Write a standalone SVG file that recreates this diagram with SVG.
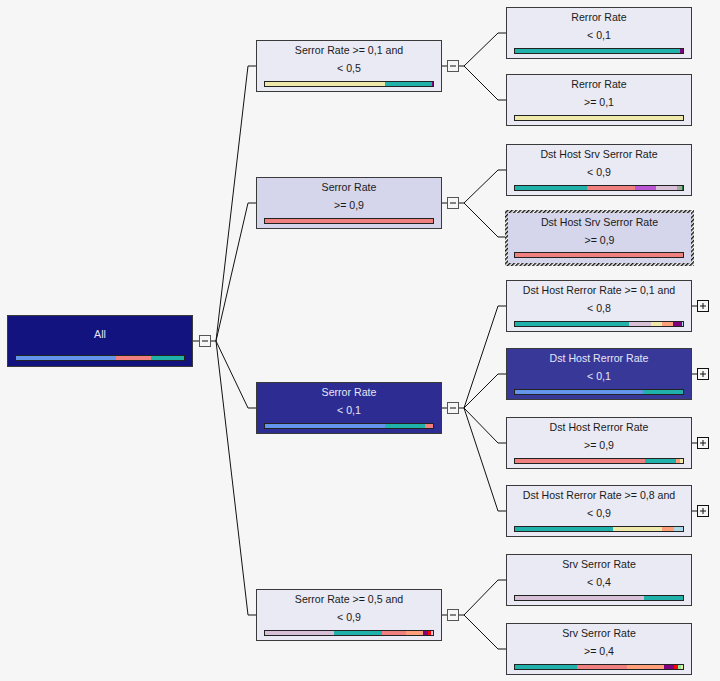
<svg xmlns="http://www.w3.org/2000/svg" width="720" height="681" viewBox="0 0 720 681">
<defs>
<pattern id="hatch" width="3" height="3" patternUnits="userSpaceOnUse" patternTransform="rotate(45)">
<rect width="3" height="3" fill="#ffffff"/>
<rect width="1.5" height="3" fill="#111111"/>
</pattern>
</defs>
<style>
.bg{fill:#F6F6F6}
.nl{fill:#EAEAF4;stroke:#3a3a3a;stroke-width:1}
.ns{fill:#D5D5EB;stroke:#3a3a3a;stroke-width:1}
.nr{fill:#13137F;stroke:#3a3a3a;stroke-width:1}
.nd1{fill:#2C2C93;stroke:#3a3a3a;stroke-width:1}
.nd2{fill:#383899;stroke:#3a3a3a;stroke-width:1}
.t{font-family:"Liberation Sans",Arial,sans-serif;font-size:10.6px;text-anchor:middle;fill:#1a1a1a}
.tw{font-family:"Liberation Sans",Arial,sans-serif;font-size:10.6px;text-anchor:middle;fill:#E6E6F6}
.bo{fill:none;stroke:#222;stroke-width:1}
.c{fill:none;stroke:#111;stroke-width:1}
.ex{fill:#F6F6F6;stroke:#555;stroke-width:1}
.exp{fill:#F6F6F6;stroke:#111;stroke-width:1}
.sg{stroke:none}
</style>
<rect class="bg" x="0" y="0" width="720" height="681"/>

<g id="connectors">
<!-- root -->
<path class="c" d="M193,341 H199 M211,341 H216 M216,341 L248,66 H256 M216,341 L248,203 H256 M216,341 L248,408 H256 M216,341 L248,615 H256"/>
<!-- L1 a -->
<path class="c" d="M442,66 H447 M459,66 H464 M464,66 L498,33 H506 M464,66 L498,100 H506"/>
<!-- L1 b -->
<path class="c" d="M442,203 H447 M459,203 H464 M464,203 L498,170 H506 M464,203 L498,237 H505"/>
<!-- L1 c -->
<path class="c" d="M442,408 H447 M459,408 H464 M464,408 L498,306 H506 M464,408 L498,374 H506 M464,408 L498,443 H506 M464,408 L498,511 H506"/>
<!-- L1 d -->
<path class="c" d="M442,615 H447 M459,615 H464 M464,615 L498,580 H506 M464,615 L498,649 H506"/>
<!-- L2 plus stubs -->
<path class="c" d="M692,306 H697 M692,374 H697 M692,443 H697 M692,511 H697"/>
</g>

<g id="expanders">
<rect class="ex" x="199.5" y="335.5" width="11" height="11"/><path class="c" d="M202,341 H208"/>
<rect class="ex" x="447.5" y="60.5" width="11" height="11"/><path class="c" d="M450,66 H456"/>
<rect class="ex" x="447.5" y="197.5" width="11" height="11"/><path class="c" d="M450,203 H456"/>
<rect class="ex" x="447.5" y="402.5" width="11" height="11"/><path class="c" d="M450,408 H456"/>
<rect class="ex" x="447.5" y="609.5" width="11" height="11"/><path class="c" d="M450,615 H456"/>
<rect class="exp" x="697.5" y="300.5" width="11" height="11"/><path class="c" d="M700,306 H706 M703,303 V309"/>
<rect class="exp" x="697.5" y="368.5" width="11" height="11"/><path class="c" d="M700,374 H706 M703,371 V377"/>
<rect class="exp" x="697.5" y="437.5" width="11" height="11"/><path class="c" d="M700,443 H706 M703,440 V446"/>
<rect class="exp" x="697.5" y="505.5" width="11" height="11"/><path class="c" d="M700,511 H706 M703,508 V514"/>
</g>

<g id="node-root">
<rect class="nr" x="7.5" y="315.5" width="185" height="51"/>
<text class="tw" x="100" y="338">All</text>
<rect class="sg" x="15" y="355" width="101" height="6" fill="#6495ED"/>
<rect class="sg" x="116" y="355" width="35" height="6" fill="#F08080"/>
<rect class="sg" x="151" y="355" width="34" height="6" fill="#20B2AA"/>
<rect class="bo" x="15.5" y="355.5" width="169" height="5"/>
</g>

<g id="node-serror-01-05">
<rect class="nl" x="256.5" y="40.5" width="185" height="51"/>
<text class="t" x="349" y="53.5">Serror Rate &gt;= 0,1 and</text>
<text class="t" x="349" y="71.5">&lt; 0,5</text>
<rect class="sg" x="264" y="81" width="121" height="6" fill="#EEE8AA"/>
<rect class="sg" x="385" y="81" width="47" height="6" fill="#20B2AA"/>
<rect class="sg" x="432" y="81" width="2" height="6" fill="#800080"/>
<rect class="bo" x="264.5" y="81.5" width="169" height="5"/>
</g>

<g id="node-serror-ge09">
<rect class="ns" x="256.5" y="177.5" width="185" height="51"/>
<text class="t" x="349" y="190.5">Serror Rate</text>
<text class="t" x="349" y="208.5">&gt;= 0,9</text>
<rect class="sg" x="264" y="218" width="170" height="6" fill="#F08080"/>
<rect class="bo" x="264.5" y="218.5" width="169" height="5"/>
</g>

<g id="node-serror-lt01">
<rect class="nd1" x="256.5" y="382.5" width="185" height="51"/>
<text class="tw" x="349" y="395.5">Serror Rate</text>
<text class="tw" x="349" y="413.5">&lt; 0,1</text>
<rect class="sg" x="264" y="423" width="121" height="6" fill="#6495ED"/>
<rect class="sg" x="385" y="423" width="40" height="6" fill="#20B2AA"/>
<rect class="sg" x="425" y="423" width="9" height="6" fill="#F08080"/>
<rect class="bo" x="264.5" y="423.5" width="169" height="5"/>
</g>

<g id="node-serror-05-09">
<rect class="nl" x="256.5" y="589.5" width="185" height="51"/>
<text class="t" x="349" y="602.5">Serror Rate &gt;= 0,5 and</text>
<text class="t" x="349" y="620.5">&lt; 0,9</text>
<rect class="sg" x="264" y="630" width="70" height="6" fill="#D8BFD8"/>
<rect class="sg" x="334" y="630" width="48" height="6" fill="#20B2AA"/>
<rect class="sg" x="382" y="630" width="24" height="6" fill="#F08080"/>
<rect class="sg" x="406" y="630" width="17" height="6" fill="#FFA07A"/>
<rect class="sg" x="423" y="630" width="5" height="6" fill="#800080"/>
<rect class="sg" x="428" y="630" width="3" height="6" fill="#FF0000"/>
<rect class="sg" x="431" y="630" width="3" height="6" fill="#E8C8D0"/>
<rect class="bo" x="264.5" y="630.5" width="169" height="5"/>
</g>

<g id="node-rerror-lt01">
<rect class="nl" x="506.5" y="7.5" width="185" height="51"/>
<text class="t" x="599" y="20.5">Rerror Rate</text>
<text class="t" x="599" y="38.5">&lt; 0,1</text>
<rect class="sg" x="514" y="48" width="166" height="6" fill="#20B2AA"/>
<rect class="sg" x="680" y="48" width="4" height="6" fill="#800080"/>
<rect class="bo" x="514.5" y="48.5" width="169" height="5"/>
</g>

<g id="node-rerror-ge01">
<rect class="nl" x="506.5" y="74.5" width="185" height="51"/>
<text class="t" x="599" y="87.5">Rerror Rate</text>
<text class="t" x="599" y="105.5">&gt;= 0,1</text>
<rect class="sg" x="514" y="115" width="170" height="6" fill="#EEE8AA"/>
<rect class="bo" x="514.5" y="115.5" width="169" height="5"/>
</g>

<g id="node-dhsserror-lt09">
<rect class="nl" x="506.5" y="144.5" width="185" height="51"/>
<text class="t" x="599" y="157.5">Dst Host Srv Serror Rate</text>
<text class="t" x="599" y="175.5">&lt; 0,9</text>
<rect class="sg" x="514" y="185" width="73" height="6" fill="#20B2AA"/>
<rect class="sg" x="587" y="185" width="48" height="6" fill="#F08080"/>
<rect class="sg" x="635" y="185" width="21" height="6" fill="#BA55D3"/>
<rect class="sg" x="656" y="185" width="21" height="6" fill="#D8BFD8"/>
<rect class="sg" x="677" y="185" width="5" height="6" fill="#A0A8A0"/>
<rect class="sg" x="682" y="185" width="2" height="6" fill="#1E7A3A"/>
<rect class="bo" x="514.5" y="185.5" width="169" height="5"/>
</g>

<g id="node-dhsserror-ge09">
<rect x="506.5" y="211.5" width="186" height="53" fill="#D5D5EB" stroke="url(#hatch)" stroke-width="3"/>
<text class="t" x="599.5" y="225.5">Dst Host Srv Serror Rate</text>
<text class="t" x="599.5" y="243.5">&gt;= 0,9</text>
<rect class="sg" x="514" y="252" width="170" height="6" fill="#F08080"/>
<rect class="bo" x="514.5" y="252.5" width="169" height="5"/>
</g>

<g id="node-dhrerror-01-08">
<rect class="nl" x="506.5" y="280.5" width="185" height="51"/>
<text class="t" x="599" y="293.5">Dst Host Rerror Rate &gt;= 0,1 and</text>
<text class="t" x="599" y="311.5">&lt; 0,8</text>
<rect class="sg" x="514" y="321" width="115" height="6" fill="#20B2AA"/>
<rect class="sg" x="629" y="321" width="22" height="6" fill="#D8BFD8"/>
<rect class="sg" x="651" y="321" width="11" height="6" fill="#EEE8AA"/>
<rect class="sg" x="662" y="321" width="11" height="6" fill="#FFA07A"/>
<rect class="sg" x="673" y="321" width="9" height="6" fill="#800080"/>
<rect class="sg" x="682" y="321" width="2" height="6" fill="#ADD8E6"/>
<rect class="bo" x="514.5" y="321.5" width="169" height="5"/>
</g>

<g id="node-dhrerror-lt01">
<rect class="nd2" x="506.5" y="348.5" width="185" height="51"/>
<text class="tw" x="599" y="361.5">Dst Host Rerror Rate</text>
<text class="tw" x="599" y="379.5">&lt; 0,1</text>
<rect class="sg" x="514" y="389" width="129" height="6" fill="#6495ED"/>
<rect class="sg" x="643" y="389" width="41" height="6" fill="#20B2AA"/>
<rect class="bo" x="514.5" y="389.5" width="169" height="5"/>
</g>

<g id="node-dhrerror-ge09">
<rect class="nl" x="506.5" y="417.5" width="185" height="51"/>
<text class="t" x="599" y="430.5">Dst Host Rerror Rate</text>
<text class="t" x="599" y="448.5">&gt;= 0,9</text>
<rect class="sg" x="514" y="458" width="131" height="6" fill="#F08080"/>
<rect class="sg" x="645" y="458" width="31" height="6" fill="#20B2AA"/>
<rect class="sg" x="676" y="458" width="4" height="6" fill="#FFA07A"/>
<rect class="sg" x="680" y="458" width="4" height="6" fill="#EEE8AA"/>
<rect class="bo" x="514.5" y="458.5" width="169" height="5"/>
</g>

<g id="node-dhrerror-08-09">
<rect class="nl" x="506.5" y="485.5" width="185" height="51"/>
<text class="t" x="599" y="498.5">Dst Host Rerror Rate &gt;= 0,8 and</text>
<text class="t" x="599" y="516.5">&lt; 0,9</text>
<rect class="sg" x="514" y="526" width="99" height="6" fill="#20B2AA"/>
<rect class="sg" x="613" y="526" width="49" height="6" fill="#EEE8AA"/>
<rect class="sg" x="662" y="526" width="12" height="6" fill="#FFA07A"/>
<rect class="sg" x="674" y="526" width="10" height="6" fill="#ADD8E6"/>
<rect class="bo" x="514.5" y="526.5" width="169" height="5"/>
</g>

<g id="node-srvserror-lt04">
<rect class="nl" x="506.5" y="554.5" width="185" height="51"/>
<text class="t" x="599" y="567.5">Srv Serror Rate</text>
<text class="t" x="599" y="585.5">&lt; 0,4</text>
<rect class="sg" x="514" y="595" width="130" height="6" fill="#D8BFD8"/>
<rect class="sg" x="644" y="595" width="40" height="6" fill="#20B2AA"/>
<rect class="bo" x="514.5" y="595.5" width="169" height="5"/>
</g>

<g id="node-srvserror-ge04">
<rect class="nl" x="506.5" y="623.5" width="185" height="51"/>
<text class="t" x="599" y="636.5">Srv Serror Rate</text>
<text class="t" x="599" y="654.5">&gt;= 0,4</text>
<rect class="sg" x="514" y="664" width="63" height="6" fill="#20B2AA"/>
<rect class="sg" x="577" y="664" width="50" height="6" fill="#F08080"/>
<rect class="sg" x="627" y="664" width="37" height="6" fill="#FFA07A"/>
<rect class="sg" x="664" y="664" width="10" height="6" fill="#800080"/>
<rect class="sg" x="674" y="664" width="4" height="6" fill="#FF0000"/>
<rect class="sg" x="678" y="664" width="3" height="6" fill="#90EE90"/>
<rect class="sg" x="681" y="664" width="3" height="6" fill="#EEE8AA"/>
<rect class="bo" x="514.5" y="664.5" width="169" height="5"/>
</g>
</svg>
